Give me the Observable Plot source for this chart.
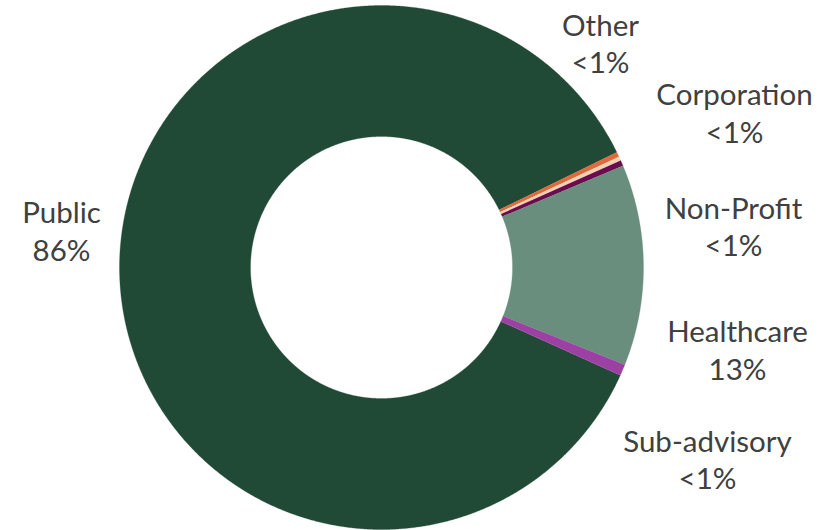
<!DOCTYPE html>
<html>
<head>
<meta charset="utf-8">
<script src="https://cdn.jsdelivr.net/npm/d3@7"></script>
<script src="https://cdn.jsdelivr.net/npm/@observablehq/plot@0.6"></script>
<style>
  html, body { margin: 0; padding: 0; background: #ffffff; }
  #chart { width: 828px; height: 530px; }
</style>
</head>
<body>
<div id="chart"></div>
<script>
// ---- data ----
const categories = ["Public", "Other", "Corporation", "Non-Profit", "Healthcare", "Sub-advisory"];
const shares     = [86.0, 0.3, 0.25, 0.35, 12.4, 0.7];          // percent
const pctLabels  = ["86%", "<1%", "<1%", "<1%", "13%", "<1%"];
const colors     = ["#214a36", "#e06a3a", "#f0d3b4", "#6c0c4e", "#6a8e7d", "#9c40a4"];

// ---- layout ----
const W = 828, H = 530;
const cx = 381, cy = 267, R = 262;      // pixel centre and outer radius
const innerRatio = 0.5;
const startDeg = 114.3;                 // clockwise from 12 o'clock
// label anchors (pixels) for each category, in the same order
const labelX = [61, 600, 734, 733, 737, 707];
const labelNameY = [213, 26, 95, 209, 332, 442];
const labelPctY  = [251, 63, 133, 246, 370, 479];

// ---- build slice polygons from the shares ----
const total = d3.sum(shares);
const points = [];
let a = startDeg;
categories.forEach((c, i) => {
  const span = shares[i] / total * 360;
  const a0 = a, a1 = a + span;
  const n = Math.max(2, Math.ceil(span / 0.25));
  const outer = [], inner = [];
  for (let k = 0; k <= n; k++) {
    const t = (a0 + (a1 - a0) * k / n) * Math.PI / 180;
    outer.push({cat: c, x: Math.sin(t), y: Math.cos(t)});
    inner.push({cat: c, x: innerRatio * Math.sin(t), y: innerRatio * Math.cos(t)});
  }
  points.push(...outer, ...inner.reverse());
  a = a1;
});

const labels = categories.map((c, i) => ({
  name: c, pct: pctLabels[i],
  x: (labelX[i] - cx) / R,
  yn: (cy - labelNameY[i]) / R,
  yp: (cy - labelPctY[i]) / R
}));

const chart = Plot.plot({
  width: W, height: H,
  margin: 0,
  x: {domain: [-cx / R, (W - cx) / R], range: [0, W], axis: null},
  y: {domain: [-(H - cy) / R, cy / R], range: [H, 0], axis: null},
  color: {domain: categories, range: colors},
  style: {fontFamily: "Lato, 'Open Sans', sans-serif", background: "#ffffff"},
  marks: [
    Plot.line(points, {x: "x", y: "y", z: "cat", fill: "cat", stroke: "cat", strokeWidth: 0.3}),
    Plot.text(labels, {x: "x", y: "yn", text: "name", fontSize: 29.5, fill: "#404040", textAnchor: "middle", lineAnchor: "middle"}),
    Plot.text(labels, {x: "x", y: "yp", text: "pct", fontSize: 29.5, fill: "#404040", textAnchor: "middle", lineAnchor: "middle"})
  ]
});
document.getElementById("chart").appendChild(chart);
</script>
</body>
</html>
